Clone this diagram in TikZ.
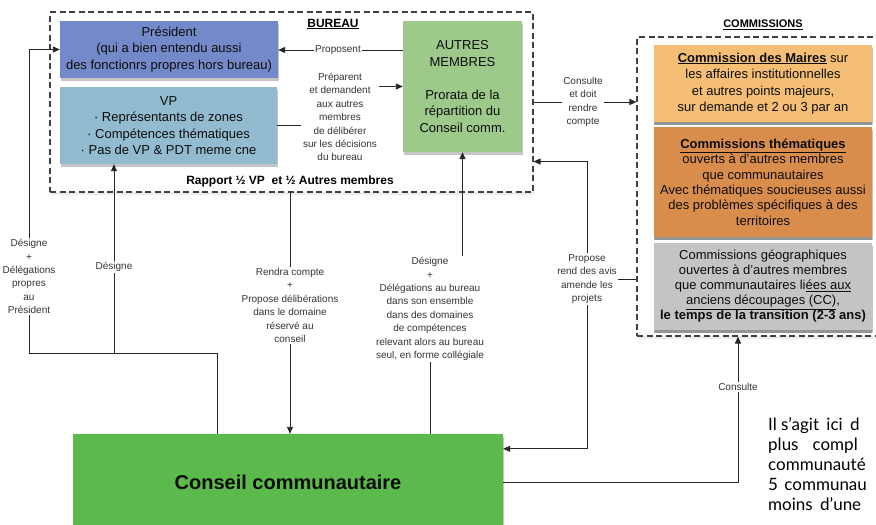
\documentclass[tikz,border=0pt]{standalone}
\usepackage{fontspec}
\setmainfont{Liberation Sans}
\newfontfamily\notefont{Lato}
\usetikzlibrary{arrows.meta,shadows,calc}

\definecolor{presblue}{HTML}{7389C9}
\definecolor{vpblue}{HTML}{93BBCF}
\definecolor{autresgreen}{HTML}{9DC98B}
\definecolor{mairesorange}{HTML}{F4BE74}
\definecolor{themorange}{HTML}{D98D4C}
\definecolor{geogray}{HTML}{C4C4C4}
\definecolor{conseilgreen}{HTML}{5CB94B}

\tikzset{
  box/.style={draw=none, inner sep=0pt, align=center, text=black!95,
    font=\fontsize{13}{16.5}\selectfont,
    drop shadow={shadow xshift=0.5pt, shadow yshift=-2.5pt, opacity=0.45}},
  combox/.style={box, minimum width=218pt,
    drop shadow={shadow xshift=0pt, shadow yshift=-3pt, opacity=0.7}},
  grpbox/.style={draw=black!75, line width=1.1pt, dash pattern=on 6pt off 3.5pt,
    fill=white, inner sep=0pt,
    drop shadow={shadow xshift=1pt, shadow yshift=-3pt, opacity=0.15}},
  lbl/.style={align=center, inner sep=1.5pt, text=black!80,
    font=\fontsize{10}{13.4}\selectfont},
  link/.style={draw=black!85, line width=0.9pt},
  arr/.style={link, -{Triangle[length=7pt,width=6pt]}},
  note/.style={anchor=base west, inner sep=0pt, font=\notefont\fontsize{17}{20}\selectfont}
}

\begin{document}
\begin{tikzpicture}[x=1pt,y=-1pt]
  \useasboundingbox (0,0) rectangle (876,525);
  \clip (0,0) rectangle (876,525);

  % bureau
  \node[grpbox, minimum width=483pt, minimum height=180pt] (bureau) at (291.5,102) {};
  \node[font=\bfseries\fontsize{12}{14}\selectfont] (bureaulbl) at (333,24) {\underline{BUREAU}};
  \node[box, fill=presblue, minimum width=218pt, minimum height=57pt] (pres) at (169,49.5)
    {Président\\(qui a bien entendu aussi\\des fonctionrs propres hors bureau)};
  \node[box, fill=vpblue, minimum width=217pt, minimum height=77pt] (vp) at (168.5,125.5)
    {VP\\· Représentants de zones\\· Compétences thématiques\\· Pas de VP \& PDT meme cne};
  \node[box, fill=autresgreen, minimum width=119pt, minimum height=131pt] (autres) at (462.5,86.5)
    {AUTRES\\MEMBRES\\[16.5pt]Prorata de la\\répartition du\\Conseil comm.};
  \node[font=\bfseries\fontsize{12}{14}\selectfont] (rapport) at (290,181) {Rapport ½ VP\ \ et ½ Autres membres};

  \node[lbl] (prop) at (338,50) {Proposent};
  \node[lbl] (prep) at (340,117) {Préparent\\et demandent\\aux autres\\membres\\de délibérer\\sur les décisions\\du bureau};
  \draw[link] (autres.west |- prop.east) -- (prop.east);
  \draw[arr] (prop.west) -- (pres.east |- prop.west);
  \draw[link] (vp.east) -- (vp.east -| prep.west);
  \draw[arr] (prep.east |- autres.west) -- (autres.west);

  % commissions
  \node[grpbox, minimum width=263pt, minimum height=299pt] (comm) at (768.5,186.5) {};
  \node[font=\bfseries\fontsize{11}{13}\selectfont] (commlbl) at (763,25) {\underline{COMMISSIONS}};
  \node[combox, fill=mairesorange, minimum height=77pt] (maires) at (763,83.5)
    {\textbf{\underline{Commission des Maires}} sur\\les affaires institutionnelles\\et autres points majeurs,\\sur demande et 2 ou 3 par an};
  \node[combox, fill=themorange, minimum height=110pt,
    font=\fontsize{13}{15.4}\selectfont] (themat) at (763,182)
    {\textbf{\underline{Commissions thématiques}}\\ouverts à d'autres membres\\que communautaires\\Avec thématiques soucieuses aussi\\des problèmes spécifiques à des\\territoires};
  \node[combox, fill=geogray, minimum height=87pt,
    font=\fontsize{13}{15}\selectfont] (geo) at (763,286.5)
    {Commissions géographiques\\ouvertes à d'autres membres\\que communautaires li\underline{ées aux}\\\underline{anciens découpages (CC)},\\\textbf{le temps de la transition (2-3 ans)}};

  \node[lbl] (cons) at (583,102) {Consulte\\et doit\\rendre\\compte};
  \draw[link] (bureau.east |- cons.west) -- (cons.west);
  \draw[arr] (cons.east) -- (comm.west |- cons.east);

  % conseil
  \node[box, fill=conseilgreen, minimum width=430pt, minimum height=96pt,
    font=\bfseries\fontsize{20}{24}\selectfont] (conseil) at (288,482) {Conseil communautaire};
  \coordinate (jn) at (217,353);
  \coordinate (bureauin) at ($(bureau.south east)+(0,-31)$);
  \coordinate (conseilin) at ($(conseil.north east)+(0,15)$);

  \node[lbl] (despres) at (29,276.5) {Désigne\\+\\Délégations\\propres\\au\\Président};
  \node[lbl] (desvp) at (114,267) {Désigne};
  \node[lbl] (rendra) at (290,305.5) {Rendra compte\\+\\Propose délibérations\\dans le domaine\\réservé au\\conseil};
  \node[lbl] (desbur) at (430,309) {Désigne\\+\\Délégations au bureau\\dans son ensemble\\dans des domaines\\de compétences\\relevant alors au bureau\\seul, en forme collégiale};
  \node[lbl] (propose) at (587,279) {Propose\\rend des avis\\amende les\\projets};
  \node[lbl] (consulte) at (738,387) {Consulte};

  \draw[arr] (despres.north) -- (despres.north |- pres.west) -- (pres.west);
  \draw[link] (despres.south) -- (despres.south |- jn) -- (jn);
  \draw[arr] (desvp.north) -- (desvp.north |- vp.south);
  \draw[link] (desvp.south) -- (desvp.south |- jn);
  \draw[link] (jn) -- (jn |- conseil.north);
  \draw[link] (rendra.north |- bureau.south) -- (rendra.north);
  \draw[arr] (rendra.south) -- (rendra.south |- conseil.north);
  \draw[arr] (autres.south |- desbur.north) -- (autres.south);
  \draw[link] (desbur.south) -- (desbur.south |- conseil.north);
  \draw[arr] (propose.north) -- (propose.north |- bureauin) -- (bureauin);
  \draw[arr] (propose.south) -- (propose.south |- conseilin) -- (conseilin);
  \draw[link] (propose.east) -- (propose.east -| comm.west);
  \draw[arr] (consulte.north) -- (consulte.north |- comm.south);
  \draw[link] (consulte.south) -- (consulte.south |- conseil.east) -- (conseil.east);

  % texte
  \node[note] (l1) at (768,430) {Il s’agit\hspace{3pt} ici\hspace{3pt} d};
  \node[note] (l2) at (768,450) {plus\hspace{14pt}compl};
  \node[note] (l3) at (768,470) {communauté};
  \node[note] (l4) at (768,490) {5\hspace{2pt} communau};
  \node[note] (l5) at (768,510) {moins\hspace{3pt} d’une};
\end{tikzpicture}
\end{document}
